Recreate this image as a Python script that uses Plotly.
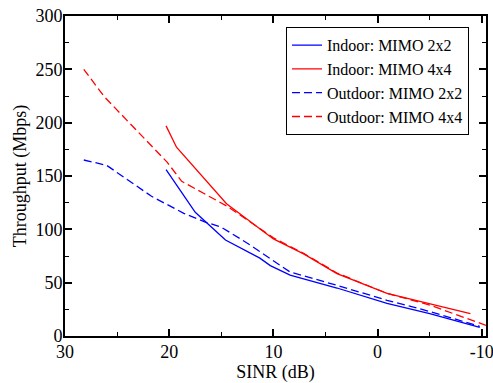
import plotly.graph_objects as go

# Indoor: MIMO 2x2 (blue solid)
in2_x = [20.3, 17.5, 14.6, 11.3, 10.3, 8.4, 3.9, -0.9, -5.0, -9.8]
in2_y = [156, 116, 90, 73, 66, 57, 45, 30.5, 21, 8]

# Indoor: MIMO 4x4 (red solid)
in4_x = [20.3, 19.3, 14.5, 10.0, 7.1, 3.9, -0.9, -5.0, -8.9]
in4_y = [197, 177, 124, 91, 77, 58.5, 40, 30, 21]

# Outdoor: MIMO 2x2 (blue dashed)
out2_x = [28.2, 26.0, 21.7, 18.6, 16.6, 15.0, 12.5, 10.3, 8.4, 3.9, -0.9, -5.0, -9.8]
out2_y = [165, 160, 131, 115, 107, 102, 87, 72.6, 60, 47.5, 33.5, 23, 9]

# Outdoor: MIMO 4x4 (red dashed)
out4_x = [28.2, 26.2, 20.2, 18.8, 14.5, 10.0, 7.1, 3.9, -0.9, -5.0, -10.4]
out4_y = [250, 224, 163, 145, 122, 92, 77.5, 59, 40, 29, 10]

x_ticks = [30, 20, 10, 0, -10]
x_labels = ["30", "20", "10", "0", "-10"]
y_ticks = [0, 50, 100, 150, 200, 250, 300]
y_labels = ["0", "50", "100", "150", "200", "250", "300"]

FONT = "Liberation Serif"
BLUE = "#0000ff"
RED = "#ff0000"

fig = go.Figure()
fig.add_trace(go.Scatter(x=in2_x, y=in2_y, mode="lines", name="Indoor: MIMO 2x2",
                         line=dict(color=BLUE, width=1.3)))
fig.add_trace(go.Scatter(x=in4_x, y=in4_y, mode="lines", name="Indoor: MIMO 4x4",
                         line=dict(color=RED, width=1.3)))
fig.add_trace(go.Scatter(x=out2_x, y=out2_y, mode="lines", name="Outdoor: MIMO 2x2",
                         line=dict(color=BLUE, width=1.3, dash="8px,4px")))
fig.add_trace(go.Scatter(x=out4_x, y=out4_y, mode="lines", name="Outdoor: MIMO 4x4",
                         line=dict(color=RED, width=1.3, dash="8px,4px")))


def axis_style(vals, labels, minor_dtick, title, standoff, label_standoff):
    return dict(
        tickmode="array", tickvals=vals, ticktext=labels,
        showgrid=False, zeroline=False, showline=True, linecolor="black", linewidth=2,
        mirror="allticks", ticks="inside", ticklen=7, tickwidth=1.5, tickcolor="black",
        ticklabeloverflow="allow", automargin=False, layer="above traces",
        ticklabelstandoff=label_standoff,
        tickfont=dict(family=FONT, size=18, color="black"),
        minor=dict(tick0=0, dtick=minor_dtick, ticks="inside", ticklen=4,
                   tickwidth=1.2, tickcolor="black", showgrid=False),
        title=dict(text=title, font=dict(family=FONT, size=18, color="black"),
                   standoff=standoff),
    )


fig.update_xaxes(range=[30, -10.4], **axis_style(x_ticks, x_labels, 5, "SINR (dB)", 5, -2))
fig.update_yaxes(range=[0, 300], **axis_style(y_ticks, y_labels, 25, "Throughput (Mbps)", 4, -3))

fig.update_layout(
    width=493, height=383,
    margin=dict(l=65, r=7, t=16, b=47),
    paper_bgcolor="white", plot_bgcolor="white",
    font=dict(family=FONT, color="black"),
    showlegend=True,
    legend=dict(x=0.525, y=0.965, xanchor="left", yanchor="top",
                bordercolor="black", borderwidth=1, bgcolor="white",
                font=dict(family=FONT, size=16, color="black"),
                itemwidth=30, tracegroupgap=0),
)

fig.write_html("out.html")
